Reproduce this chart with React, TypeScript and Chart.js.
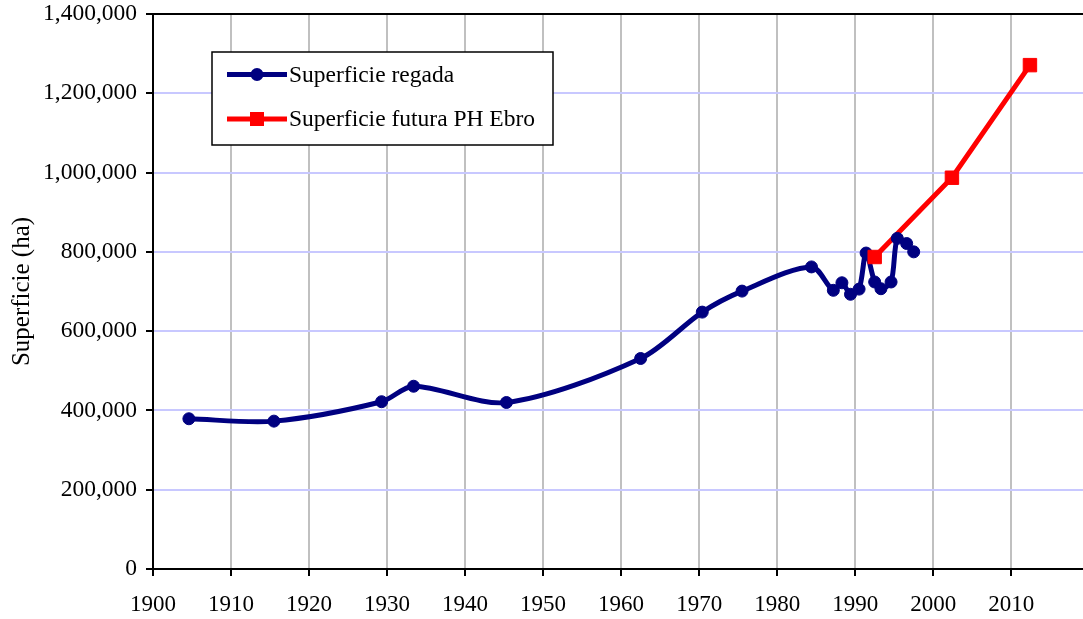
import React, { useEffect, useRef } from "react";
import { Chart, registerables } from "chart.js";

Chart.register(...registerables);

// ---- Data ----
const regadaYears = [
  1904.6, 1915.5, 1929.3, 1933.4, 1945.3, 1962.5, 1970.4, 1975.5, 1984.4,
  1987.2, 1988.3, 1989.4, 1990.5, 1991.4, 1992.5, 1993.3, 1994.6, 1995.4,
  1996.6, 1997.5,
];
const regadaValues = [
  379000, 373000, 422000, 461000, 420000, 531000, 648000, 701000, 762000,
  703000, 722000, 693000, 706000, 797000, 724000, 707000, 724000, 834000,
  821000, 800000,
];
const futuraYears = [1992.5, 2002.4, 2012.4];
const futuraValues = [787000, 987000, 1271000];

const xTickYears = [1900, 1910, 1920, 1930, 1940, 1950, 1960, 1970, 1980, 1990, 2000, 2010];
const yTickValues = [0, 200000, 400000, 600000, 800000, 1000000, 1200000, 1400000];

const legendLabels = ["Superficie regada", "Superficie futura PH Ebro"];
const yAxisTitle = "Superficie (ha)";

const FONT = "'Liberation Serif', 'Times New Roman', serif";
const BLUE = "#000080";
const RED = "#FF0000";

const toPoints = (xs: number[], ys: number[]) => xs.map((x, i) => ({ x, y: ys[i] }));

const frameAndLegend = {
  id: "frameAndLegend",
  afterDraw(chart: any) {
    const { ctx, chartArea } = chart;
    ctx.save();
    // top frame line
    ctx.strokeStyle = "#000";
    ctx.lineWidth = 2;
    ctx.beginPath();
    ctx.moveTo(chartArea.left - 1, chartArea.top);
    ctx.lineTo(chartArea.right, chartArea.top);
    ctx.stroke();

    // legend box
    const bx = 212, by = 52, bw = 341, bh = 93;
    ctx.fillStyle = "#fff";
    ctx.fillRect(bx, by, bw, bh);
    ctx.strokeStyle = "#000";
    ctx.lineWidth = 1.5;
    ctx.strokeRect(bx, by, bw, bh);

    const rows = [
      { label: legendLabels[0], color: BLUE, style: "circle", y: 74.5 },
      { label: legendLabels[1], color: RED, style: "rect", y: 119 },
    ];
    ctx.font = `23.5px ${FONT}`;
    ctx.textBaseline = "middle";
    ctx.textAlign = "left";
    rows.forEach((r) => {
      ctx.strokeStyle = r.color;
      ctx.lineWidth = 5;
      ctx.beginPath();
      ctx.moveTo(227, r.y);
      ctx.lineTo(287, r.y);
      ctx.stroke();
      ctx.fillStyle = r.color;
      if (r.style === "circle") {
        ctx.beginPath();
        ctx.arc(257, r.y, 6.5, 0, Math.PI * 2);
        ctx.fill();
      } else {
        ctx.fillRect(257 - 7, r.y - 7, 14, 14);
      }
      ctx.fillStyle = "#000";
      ctx.fillText(r.label, 289, r.y + 1);
    });
    ctx.restore();
  },
};

export default function App() {
  const canvasRef = useRef<HTMLCanvasElement | null>(null);

  useEffect(() => {
    if (!canvasRef.current) return;
    const regada = toPoints(regadaYears, regadaValues);
    const futura = toPoints(futuraYears, futuraValues);
    const chart = new Chart(canvasRef.current, {
      type: "line",
      data: {
        datasets: [
          {
            label: legendLabels[0],
            data: regada,
            borderColor: BLUE,
            backgroundColor: BLUE,
            borderWidth: 5,
            pointRadius: 0,
            tension: 0.3,
            order: 4,
          },
          {
            label: legendLabels[1],
            data: futura,
            borderColor: RED,
            backgroundColor: RED,
            borderWidth: 5,
            pointRadius: 0,
            tension: 0,
            order: 3,
          },
          {
            label: legendLabels[0] + " markers",
            data: regada,
            showLine: false,
            borderColor: BLUE,
            backgroundColor: BLUE,
            pointStyle: "circle",
            pointRadius: 6,
            pointBorderWidth: 1,
            order: 2,
          },
          {
            label: legendLabels[1] + " markers",
            data: futura,
            showLine: false,
            borderColor: RED,
            backgroundColor: RED,
            pointStyle: "rect",
            pointRadius: 9.5,
            pointBorderWidth: 1,
            order: 1,
          },
        ],
      },
      options: {
        animation: false,
        responsive: false,
        layout: { autoPadding: false, padding: { top: 14, right: 0, bottom: 0, left: 0 } },
        plugins: { legend: { display: false }, tooltip: { enabled: false } },
        scales: {
          x: {
            type: "linear",
            min: 1900,
            max: 2019.2,
            afterBuildTicks: (scale: any) => {
              scale.ticks = xTickYears.map((v) => ({ value: v }));
            },
            afterFit: (scale: any) => {
              scale.height = 50;
              scale.paddingLeft = 0;
              scale.paddingRight = 0;
            },
            grid: {
              color: "#c0c0c0",
              lineWidth: 2,
              tickColor: "#000",
              tickLength: 7,
              tickWidth: 2,
            },
            border: { color: "#000", width: 2 },
            ticks: {
              color: "#000",
              font: { family: FONT, size: 23 },
              padding: 15,
              maxRotation: 0,
              autoSkip: false,
              callback: (v: any) => String(v),
            },
          },
          y: {
            type: "linear",
            min: 0,
            max: 1400000,
            afterBuildTicks: (scale: any) => {
              scale.ticks = yTickValues.map((v) => ({ value: v }));
            },
            afterFit: (scale: any) => {
              scale.width = 153;
              scale.paddingTop = 0;
              scale.paddingBottom = 0;
            },
            grid: {
              color: "#c8c8ff",
              lineWidth: 2,
              tickColor: "#000",
              tickLength: 7,
              tickWidth: 2,
            },
            border: { color: "#000", width: 2 },
            title: {
              display: true,
              text: yAxisTitle,
              color: "#000",
              font: { family: FONT, size: 25 },
              padding: { top: 7, bottom: 0 },
            },
            ticks: {
              color: "#000",
              font: { family: FONT, size: 23.5 },
              padding: 9,
              autoSkip: false,
              callback: (v: any) => Number(v).toLocaleString("en-US"),
            },
          },
        },
      },
      plugins: [frameAndLegend],
    });
    return () => chart.destroy();
  }, []);

  return (
    <div style={{ position: "absolute", left: 0, top: 0, width: 1083, height: 619, background: "#fff" }}>
      <canvas ref={canvasRef} width={1083} height={619} style={{ display: "block" }} />
    </div>
  );
}
